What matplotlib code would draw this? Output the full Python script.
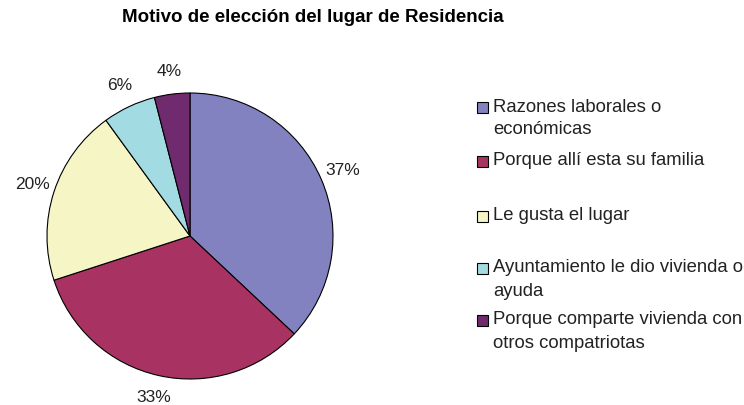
import matplotlib.pyplot as plt
from matplotlib.patches import Rectangle

# data
motivos = ["Razones laborales o\neconómicas",
           "Porque allí esta su familia",
           "Le gusta el lugar",
           "Ayuntamiento le dio vivienda o\nayuda",
           "Porque comparte vivienda con\notros compatriotas"]
porcentajes = [37, 33, 20, 6, 4]
colores = ["#8282C0", "#A83363", "#F5F5C6", "#A2DCE2", "#702A6E"]

plt.rcParams['font.family'] = ['Liberation Sans', 'DejaVu Sans']

W, H = 744, 405
fig = plt.figure(figsize=(W / 100, H / 100), dpi=100)

# pie centre (190, 236) px, radius 143 px
cx, cy, r = 190, 236, 143
ax = fig.add_axes([(cx - r) / W, (H - cy - r) / H, 2 * r / W, 2 * r / H])
wedges, _, pct = ax.pie(porcentajes, colors=colores, startangle=90, counterclock=False,
                        autopct='%d%%', pctdistance=1.16, radius=1,
                        wedgeprops=dict(edgecolor='black', linewidth=0.8))
for t in pct:
    t.set_fontsize(12.5)
    t.set_color('#222222')
ax.set_xlim(-1, 1)
ax.set_ylim(-1, 1)
ax.set_aspect('equal')
ax.axis('off')

fig.text(313 / W, 1 - 18 / H, "Motivo de elección del lugar de Residencia",
         ha='center', va='center', fontsize=13.5, fontweight='bold')

# legend drawn by hand to follow the reference spacing
box_y = [107, 161, 216, 268, 320]
box = 11
for label, color, y in zip(motivos, colores, box_y):
    fig.patches.append(Rectangle(((477) / W, 1 - (y + box / 2) / H), box / W, box / H,
                                 transform=fig.transFigure, facecolor=color,
                                 edgecolor='black', linewidth=0.8))
    for i, line in enumerate(label.split("\n")):
        fig.text(493 / W, 1 - (y + 23 * i) / H, line, ha='left', va='center',
                 fontsize=13.3, color='#222222')

fig.savefig("out.png", dpi=100)
